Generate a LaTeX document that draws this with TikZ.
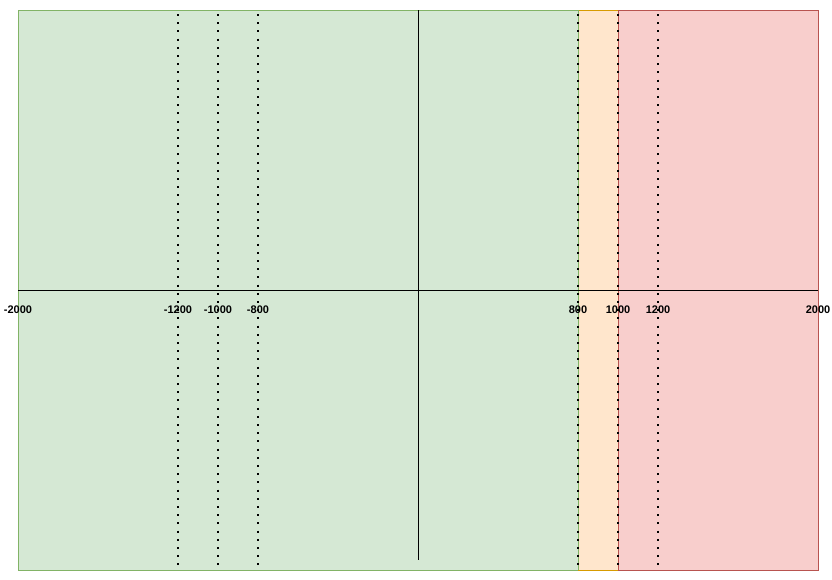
\documentclass[tikz,border=0pt]{standalone}
\usepackage{fontspec}
\setmainfont{Liberation Sans}
\definecolor{gfill}{HTML}{D5E8D4}\definecolor{gline}{HTML}{82B366}
\definecolor{ofill}{HTML}{FFE6CC}\definecolor{oline}{HTML}{D79B00}
\definecolor{rfill}{HTML}{F8CECC}\definecolor{rline}{HTML}{B85450}
\begin{document}
\begin{tikzpicture}[x=1pt,y=-1pt,
  zone/.style={line width=1pt},
  axisline/.style={line width=1pt,black},
  dotline/.style={line width=2pt,black,dash pattern=on 2pt off 6.2pt,dash phase=-4pt},
  lbl/.style={font=\fontsize{11}{13}\selectfont\bfseries,inner sep=0pt,anchor=center}]
\useasboundingbox (0,0) rectangle (832,579);
\filldraw[zone,fill=gfill,draw=gline] (18,10) rectangle (578,570);
\filldraw[zone,fill=ofill,draw=oline] (578,10) rectangle (618,570);
\filldraw[zone,fill=rfill,draw=rline] (618,10) rectangle (818,570);
\draw[zone,gline] (578,10) -- (578,570);
\draw[zone,rline] (618,10) -- (618,570);
\coordinate (xl) at (18,290);
\coordinate (xr) at (818,290);
\coordinate (yt) at (418,10);
\coordinate (yb) at (418,560);
\draw[axisline] (xl) -- (xr);
\draw[axisline] (yt) -- (yb);
\foreach \x/\n in {178/a,218/b,258/c,578/d,618/e,658/f}{
  \coordinate (t\n) at (\x,10);
  \coordinate (b\n) at (\x,570);
  \draw[dotline] (t\n) -- (b\n);
}
\foreach \x/\t/\n in {18/-2000/l1,178/-1200/l2,218/-1000/l3,258/-800/l4,578/800/l5,618/1000/l6,658/1200/l7,818/2000/l8}{
  \node[lbl] (\n) at (\x,309.5) {\t};
}
\end{tikzpicture}
\end{document}
